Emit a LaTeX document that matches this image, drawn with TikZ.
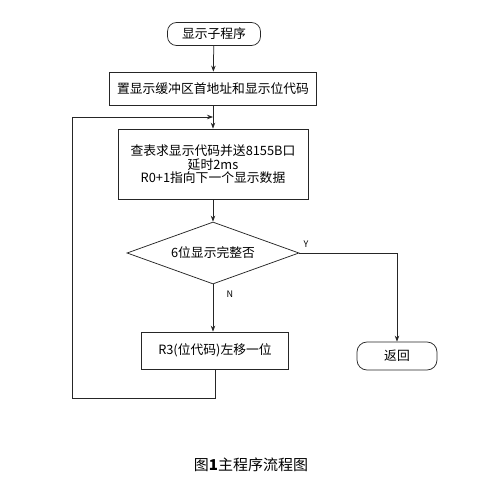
\documentclass[tikz,border=0pt]{standalone}
\usepackage{fontspec}
\setmainfont{Noto Sans CJK SC}
\usetikzlibrary{shapes.geometric,arrows.meta}
\begin{document}
\begin{tikzpicture}[x=1pt,y=-1pt,
  line width=0.75pt, draw=black!85,
  boxtext/.style={font=\fontsize{12.8pt}{13.5pt}\selectfont, align=center, inner sep=0pt},
  term/.style={draw, boxtext, rounded corners=9pt},
  proc/.style={draw, boxtext},
  decis/.style={draw, boxtext, diamond, aspect=2.74, minimum width=172pt, minimum height=62pt},
  arr/.style={-{Stealth[length=6pt,width=4.5pt]}},
  lbl/.style={font=\fontsize{9pt}{10pt}\selectfont, inner sep=0pt}]
\useasboundingbox (0,0) rectangle (487,486);
\node[term, minimum width=93pt, minimum height=23pt] (start) at (214,34) {显示子程序};
\node[proc, minimum width=207pt, minimum height=33pt] (init) at (213,88.5) {置显示缓冲区首地址和显示位代码};
\node[proc, minimum width=190pt, minimum height=70pt, text depth=0pt] (body) at (213,164) {查表求显示代码并送8155B口\\延时2ms\\R0+1指向下一个显示数据};
\node[decis] (dec) at (213,253) {6位显示完整否};
\node[proc, minimum width=147pt, minimum height=37pt] (shift) at (215,350.5) {R3(位代码)左移一位};
\node[term, minimum width=80pt, minimum height=28pt, rounded corners=10pt] (ret) at (397,356) {返回};
\coordinate (j) at (213,117);
\coordinate (lb) at (72,398);
\coordinate (lt) at (72,117);
\node[lbl] (ylab) at (306,244) {Y};
\node[lbl] (nlab) at (230,294) {N};
\node[font=\fontsize{15pt}{16pt}\selectfont, inner sep=0pt] (cap) at (251,465) {图\textbf{1}主程序流程图};
\draw[arr] (start) -- (init);
\draw[arr] (init) -- (body);
\draw[arr] (body) -- (dec);
\draw[arr] (dec.south) -- (dec.south |- shift.north);
\draw[arr] (dec.east) -| (ret.north);
\draw[arr] (shift.south) |- (lb) -- (lt) -- (j);
\end{tikzpicture}
\end{document}
